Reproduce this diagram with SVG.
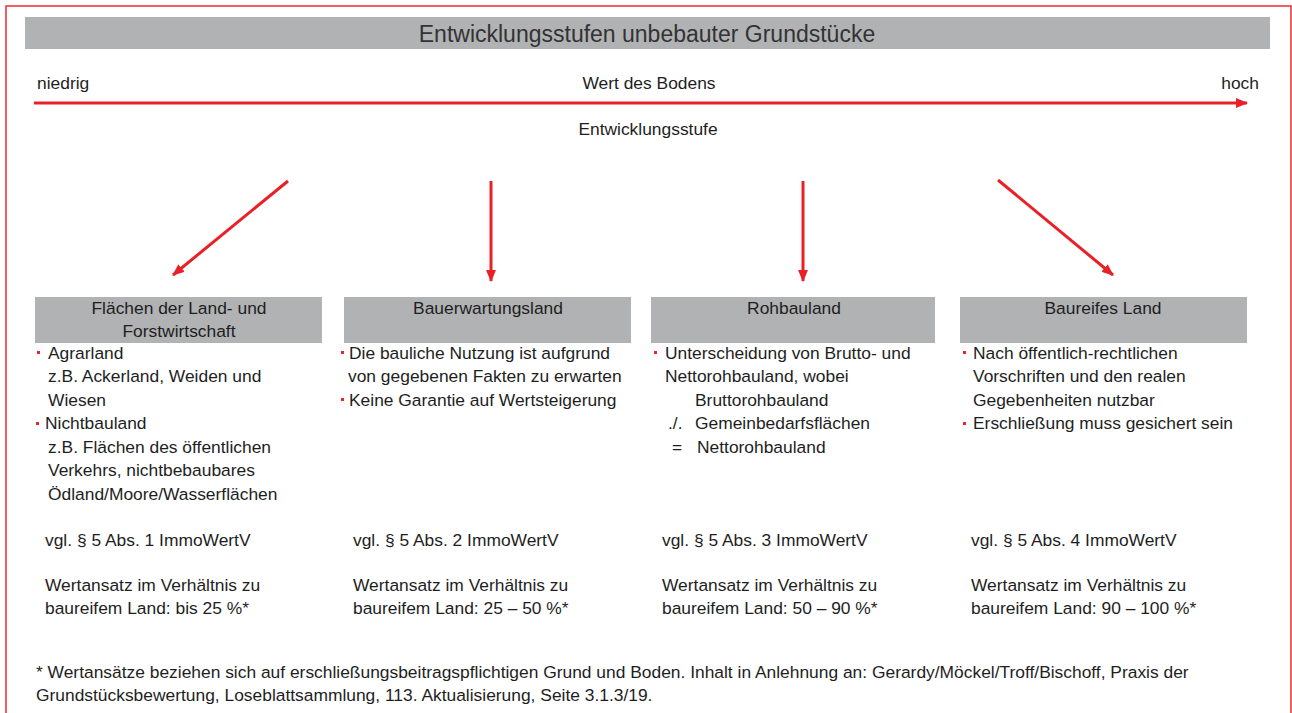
<svg xmlns="http://www.w3.org/2000/svg" width="1292" height="713" viewBox="0 0 1292 713">
<style>
text{font-family:"Liberation Sans",Arial,sans-serif;font-size:17.4px;fill:#1e1e1e}
.title{font-size:23px;fill:#333}
.mid{text-anchor:middle}
.hdr{fill:#b1b2b4}
.bul{fill:#e8262b}
.con{stroke:#ea2027;stroke-width:3;fill:none}
</style>
<defs>
<marker id="ah" viewBox="0 0 12 10" refX="11" refY="5" markerWidth="12" markerHeight="10" markerUnits="userSpaceOnUse" orient="auto">
<path d="M0,0 L12,5 L0,10 Z" fill="#ea2027"/>
</marker>
<filter id="sh" x="-5%" y="-200%" width="110%" height="500%"><feGaussianBlur stdDeviation="1.5"/></filter>
</defs>
<rect x="6" y="6" width="1285" height="720" fill="none" stroke="#ee2a2f" stroke-width="1.5"/>
<g id="title">
<rect x="25" y="17" width="1245" height="32" class="hdr"/>
<text x="647" y="42" class="title mid">Entwicklungsstufen unbebauter Grundstücke</text>
</g>
<g id="axis">
<line x1="36" y1="107" x2="1250" y2="107" stroke="#cfcfcf" stroke-width="4" filter="url(#sh)"/>
<text x="37" y="89">niedrig</text>
<text x="649" y="89" class="mid">Wert des Bodens</text>
<text x="1259" y="89" text-anchor="end">hoch</text>
<text x="648" y="135" class="mid">Entwicklungsstufe</text>
</g>
<g id="connectors">
<line x1="34" y1="103" x2="1247" y2="103" class="con" marker-end="url(#ah)"/>
<line x1="288" y1="181" x2="173" y2="275" class="con" marker-end="url(#ah)"/>
<line x1="491" y1="181" x2="491" y2="281" class="con" marker-end="url(#ah)"/>
<line x1="803" y1="181" x2="803" y2="281" class="con" marker-end="url(#ah)"/>
<line x1="998" y1="180" x2="1113" y2="275" class="con" marker-end="url(#ah)"/>
</g>
<g id="n1">
<rect x="35" y="297" width="287" height="46" class="hdr"/>
<text x="179" y="314" class="mid">Flächen der Land- und</text>
<text x="179" y="337" class="mid">Forstwirtschaft</text>
<rect x="37" y="351" width="3" height="3" class="bul"/>
<text x="48" y="359">Agrarland</text>
<text x="48" y="382">z.B. Ackerland, Weiden und</text>
<text x="48" y="406">Wiesen</text>
<rect x="36" y="422" width="3" height="3" class="bul"/>
<text x="45" y="429">Nichtbauland</text>
<text x="48" y="453">z.B. Flächen des öffentlichen</text>
<text x="48" y="476">Verkehrs, nichtbebaubares</text>
<text x="48" y="500">Ödland/Moore/Wasserflächen</text>
<text x="45" y="546">vgl. § 5 Abs. 1 ImmoWertV</text>
<text x="45" y="591">Wertansatz im Verhältnis zu</text>
<text x="45" y="614">baureifem Land: bis 25 %*</text>
</g>
<g id="n2">
<rect x="344" y="297" width="287" height="46" class="hdr"/>
<text x="488" y="314" class="mid">Bauerwartungsland</text>
<rect x="341" y="351" width="3" height="3" class="bul"/>
<text x="349" y="359">Die bauliche Nutzung ist aufgrund</text>
<text x="348" y="382">von gegebenen Fakten zu erwarten</text>
<rect x="341" y="398" width="3" height="3" class="bul"/>
<text x="349" y="406">Keine Garantie auf Wertsteigerung</text>
<text x="353" y="546">vgl. § 5 Abs. 2 ImmoWertV</text>
<text x="353" y="591">Wertansatz im Verhältnis zu</text>
<text x="353" y="614">baureifem Land: 25 – 50 %*</text>
</g>
<g id="n3">
<rect x="651" y="297" width="284" height="46" class="hdr"/>
<text x="794" y="314" class="mid">Rohbauland</text>
<rect x="654" y="351" width="3" height="3" class="bul"/>
<text x="665" y="359">Unterscheidung von Brutto- und</text>
<text x="665" y="382">Nettorohbauland, wobei</text>
<text x="695" y="406">Bruttorohbauland</text>
<text x="668" y="429">./.</text>
<text x="695" y="429">Gemeinbedarfsflächen</text>
<text x="672" y="453">=</text>
<text x="697" y="453">Nettorohbauland</text>
<text x="662" y="546">vgl. § 5 Abs. 3 ImmoWertV</text>
<text x="662" y="591">Wertansatz im Verhältnis zu</text>
<text x="662" y="614">baureifem Land: 50 – 90 %*</text>
</g>
<g id="n4">
<rect x="960" y="297" width="287" height="46" class="hdr"/>
<text x="1103" y="314" class="mid">Baureifes Land</text>
<rect x="963" y="351" width="3" height="3" class="bul"/>
<text x="973" y="359">Nach öffentlich-rechtlichen</text>
<text x="973" y="382">Vorschriften und den realen</text>
<text x="973" y="406">Gegebenheiten nutzbar</text>
<rect x="963" y="422" width="3" height="3" class="bul"/>
<text x="973" y="429">Erschließung muss gesichert sein</text>
<text x="971" y="546">vgl. § 5 Abs. 4 ImmoWertV</text>
<text x="971" y="591">Wertansatz im Verhältnis zu</text>
<text x="971" y="614">baureifem Land: 90 – 100 %*</text>
</g>
<g id="footnote">
<text x="36" y="678">* Wertansätze beziehen sich auf erschließungsbeitragspflichtigen Grund und Boden. Inhalt in Anlehnung an: Gerardy/Möckel/Troff/Bischoff, Praxis der</text>
<text x="36" y="701">Grundstücksbewertung, Loseblattsammlung, 113. Aktualisierung, Seite 3.1.3/19.</text>
</g>
</svg>
